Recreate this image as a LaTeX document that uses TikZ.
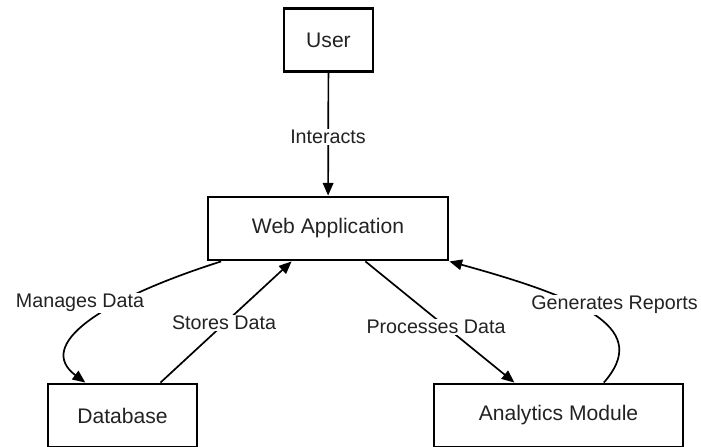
\documentclass[tikz,border=0pt]{standalone}
\usepackage{fontspec}
\setmainfont{Liberation Sans}
\usetikzlibrary{arrows.meta,calc}

\definecolor{inkgray}{HTML}{222222}

\tikzset{
  box/.style={draw, line width=2pt, minimum height=1.575cm, inner sep=0pt,
    font=\fontsize{15}{18}\selectfont},
  flow/.style={line width=1.2pt, -{Triangle[length=9pt,width=7.5pt]}},
  lbl/.style={fill=white, inner sep=1pt, font=\fontsize{14}{17}\selectfont}
}

\begin{document}
\begin{tikzpicture}[x=0.025cm, y=-0.025cm, text=inkgray]
  % Frame: 1 unit = 1 pixel of the 701 x 446 layout
  \useasboundingbox (0,0) rectangle (701,446);
  \clip (0,0) rectangle (701,446);

  % Boxes
  \node[box, minimum width=2.225cm] (user) at (328.5,40) {User};
  \node[box, minimum width=6cm] (webapp) at (328,228.5) {Web Application};
  \node[box, minimum width=3.725cm] (database) at (122.5,415.5) {Database};
  \node[box, minimum width=6.225cm] (analytics) at (558.5,415.5) {Analytics Module};

  % Connectors
  \draw[flow] (user) -- (webapp);
  \draw[flow] ($(webapp.south west)!0.06!(webapp.south east)$)
    .. controls (100,300) and (35,345) ..
    ($(database.north west)!0.255!(database.north east)$);
  \draw[flow] ($(database.north west)!0.75!(database.north east)$)
    -- ($(webapp.south west)!0.35!(webapp.south east)$);
  \draw[flow] ($(webapp.south west)!0.654!(webapp.south east)$)
    -- ($(analytics.north west)!0.325!(analytics.north east)$);
  \draw[flow] ($(analytics.north west)!0.68!(analytics.north east)$)
    .. controls (650,330) and (590,300) .. (webapp.south east);

  % Edge labels
  \node[lbl] (interacts) at (328,137) {Interacts};
  \node[lbl] (manages) at (80,303) {Manages Data};
  \node[lbl] (stores) at (224,323) {Stores Data};
  \node[lbl] (processes) at (436,327) {Processes Data};
  \node[lbl] (generates) at (614.5,305) {Generates Reports};
\end{tikzpicture}
\end{document}
